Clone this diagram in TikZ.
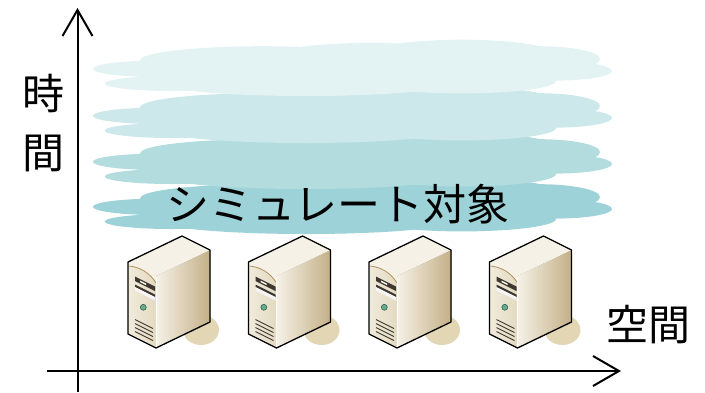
\documentclass[tikz,border=0pt]{standalone}
\usepackage{fontspec}
\setmainfont{Noto Sans CJK JP}
\usetikzlibrary{arrows.meta}
\definecolor{cloudA}{RGB}{227,243,244}
\definecolor{cloudB}{RGB}{205,232,235}
\definecolor{cloudC}{RGB}{179,220,223}
\definecolor{cloudD}{RGB}{157,211,216}
\definecolor{caseTop}{RGB}{245,241,230}
\definecolor{caseFront}{RGB}{228,218,192}
\definecolor{caseSide}{RGB}{196,176,136}
\definecolor{caseShadow}{RGB}{226,214,180}
\definecolor{caseTrim}{RGB}{176,146,96}
\definecolor{caseSlot}{RGB}{62,56,48}
\definecolor{ledGreen}{RGB}{96,172,140}
\tikzstyle{axis} = [line width=2pt,-{Straight Barb[length=26pt,width=30pt,line width=2pt]}]
\tikzstyle{axislabel} = [font=\fontsize{42}{59}\selectfont, align=center, inner sep=0pt]
\tikzstyle{cloudtext} = [font=\fontsize{43}{43}\selectfont, inner sep=0pt]
\tikzstyle{case} = [draw=black, line width=1.3pt, line join=round]

% one flat cloud layer, moved down by #2
\newcommand{\cloudlayer}[2]{%
  \begin{scope}[shift={(0,#2)}]
    \fill[#1] (155.4,68.8) ellipse [x radius=62.5, y radius=8.1]
      (171.5,83.5) ellipse [x radius=66.8, y radius=7.5]
      (263,60.2) ellipse [x radius=122.8, y radius=14]
      (370.8,59.1) ellipse [x radius=107.7, y radius=16.2]
      (462,56.9) ellipse [x radius=100, y radius=17.2]
      (540,59.1) ellipse [x radius=60, y radius=12.9]
      (555,70.9) ellipse [x radius=57, y radius=9.7]
      (306,83) ellipse [x radius=145.4, y radius=13]
      (462,81) ellipse [x radius=94, y radius=12.4]
      (356,70.9) ellipse [x radius=222, y radius=19.4];
  \end{scope}}

% tower case, origin at the top corner
\newcommand{\servertower}{%
  \fill[caseShadow] (19,94) ellipse [x radius=18, y radius=15];
  \fill[left color=caseTop, right color=caseSide] (-26,40) -- (28,14) -- (28,86) -- (-26,112) -- cycle;
  \fill[left color=caseFront!55!white, right color=caseFront] (-54,26) -- (-26,40) -- (-26,112) -- (-54,98) -- cycle;
  \fill[caseTop] (-54,26) -- (0,0) -- (28,14) -- (-26,40) -- (-26,47) .. controls (-32,37) and (-42,31) .. (-53,30) -- cycle;
  \draw[caseTrim, line width=0.8pt] (-53,30) .. controls (-42,31) and (-32,37) .. (-26,47);
  \draw[white, line width=0.6pt] (-26,41) -- (-26,111);
  % drive bays
  \fill[caseSlot] (-47,40.5) -- (-27,50.5) -- (-27,55) -- (-47,45) -- cycle;
  \fill[white] (-42,44.5) -- (-36,47.5) -- (-36,49) -- (-42,46) -- cycle;
  \fill[caseSlot] (-47,48.5) -- (-27,58.5) -- (-27,61) -- (-47,51) -- cycle;
  \fill[white!92!gray] (-47,51) -- (-27,61) -- (-27,64.5) -- (-47,54.5) -- cycle;
  % power led
  \filldraw[fill=ledGreen, draw=ledGreen!50!black, line width=0.5pt] (-38.7,71.3) circle [radius=3];
  % vents
  \foreach \v in {54,58,62,66}
    \draw[caseSlot, line width=0.9pt] (-47,29.5+\v) -- (-29,38.5+\v);
  \draw[case] (0,0) -- (28,14) -- (28,86) -- (-26,112) -- (-54,98) -- (-54,26) -- cycle;
}

\begin{document}
\begin{tikzpicture}[x=1pt, y=-1pt]
  \useasboundingbox (0,0) rectangle (705,392);

  % layers of the simulated target
  \cloudlayer{cloudD}{138}
  \cloudlayer{cloudC}{93}
  \cloudlayer{cloudB}{47}
  \cloudlayer{cloudA}{0}
  \node[cloudtext] (target) at (338,204) {シミュレート対象};

  % machines
  \foreach \sx in {182,302.5,423,543.5} {
    \begin{scope}[shift={(\sx,236)}]
      \servertower
    \end{scope}
  }

  % axes
  \coordinate (ybot) at (77.5,392);
  \coordinate (ytop) at (77.5,8);
  \coordinate (xleft) at (47,371);
  \coordinate (xright) at (621,371);
  \draw[axis] (ybot) -- (ytop);
  \draw[axis] (xleft) -- (xright);

  \node[axislabel] (time) at (43,123) {時\\間};
  \node[axislabel] (space) at (648,325) {空間};
\end{tikzpicture}
\end{document}
